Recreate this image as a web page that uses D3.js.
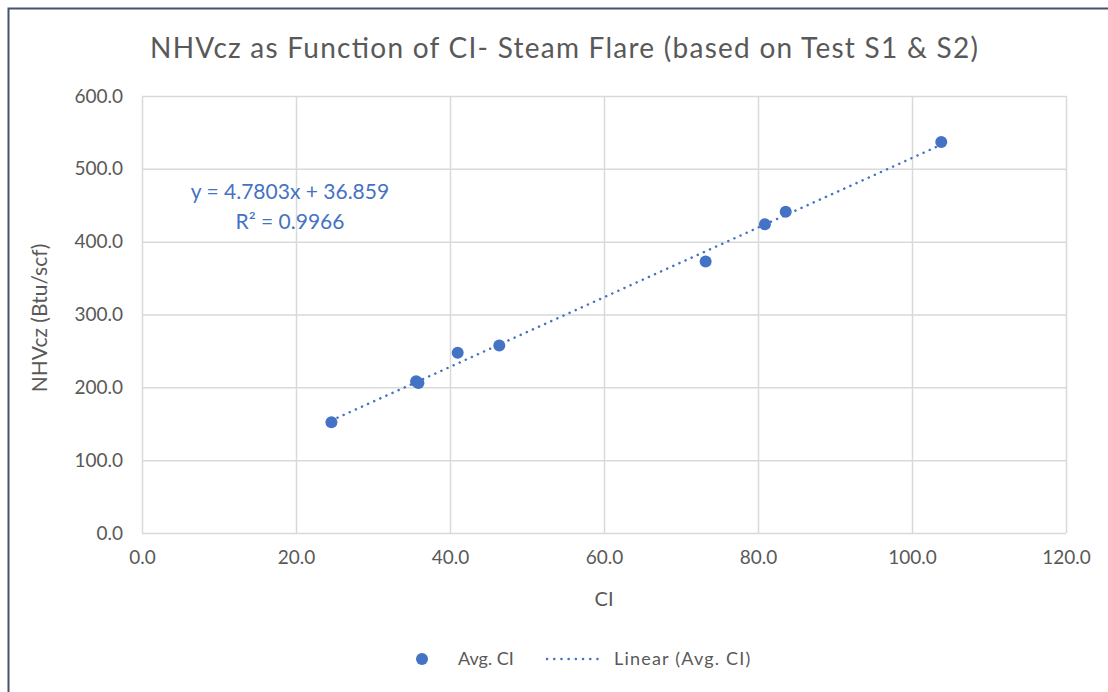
<!DOCTYPE html>
<html lang="en">
<head>
  <meta charset="utf-8">
  <title>NHVcz vs CI</title>
  <script src="https://cdn.jsdelivr.net/npm/d3@7"></script>
  <style>
    body { margin: 0; background: #fff; }
    text { font-family: Lato, "Open Sans", sans-serif; }
  </style>
</head>
<body>
  <script>
    // Avg. CI points
    var ciValues = [24.6, 35.6, 35.9, 41.0, 46.4, 73.2, 80.9, 83.6, 103.8];
    var nhvValues = [152, 208.5, 206, 247.6, 257.3, 372.7, 424, 441, 536.7];
    var xTicks = [0, 20, 40, 60, 80, 100, 120];
    var yTicks = [0, 100, 200, 300, 400, 500, 600];
    var slope = 4.7803, intercept = 36.859;

    var w = 1108, h = 692;
    var margin = { top: 96, left: 142, right: 42, bottom: 159 };
    var width = w - margin.left - margin.right;
    var height = h - margin.top - margin.bottom;
    var blue = "#4472C4", grey = "#595959";

    var svg = d3.select("body").append("svg")
                .attr("width", w)
                .attr("height", h);

    // outer chart frame
    svg.append("rect")
       .attr("x", 8.5).attr("y", 8.5)
       .attr("width", w + 20).attr("height", h + 20)
       .attr("fill", "#fff")
       .attr("stroke", "#44546A")
       .attr("stroke-width", 2);

    svg.append("text")
       .attr("x", 564).attr("y", 58)
       .attr("text-anchor", "middle")
       .attr("font-size", 28)
       .attr("fill", grey)
       .attr("textLength", 828)
       .text("NHVcz as Function of CI- Steam Flare (based on Test S1 & S2)");

    var chart = svg.append("g")
                   .attr("transform", "translate(" + margin.left + "," + margin.top + ")");

    var x = d3.scaleLinear().domain([0, 120]).range([0, width]);
    var y = d3.scaleLinear().domain([0, 600]).range([height, 0]);

    // gridlines
    chart.append("g")
         .call(d3.axisBottom(x).tickValues(xTicks).tickSize(-height).tickFormat(""))
         .attr("transform", "translate(0," + height + ")")
         .call(function(g) {
           g.select(".domain").remove();
           g.selectAll("line").attr("stroke", "#d9d9d9").attr("stroke-width", 1.5);
         });
    chart.append("g")
         .call(d3.axisLeft(y).tickValues(yTicks).tickSize(-width).tickFormat(""))
         .call(function(g) {
           g.select(".domain").remove();
           g.selectAll("line").attr("stroke", "#d9d9d9").attr("stroke-width", 1.5);
         });

    // tick labels
    var xAxis = chart.append("g")
         .attr("transform", "translate(0," + height + ")")
         .call(d3.axisBottom(x).tickValues(xTicks).tickSize(0).tickPadding(18).tickFormat(d3.format(".1f")));
    xAxis.select(".domain").remove();
    xAxis.selectAll("text").attr("font-size", 19).attr("fill", grey)
         .style("font-family", "Lato, sans-serif");

    var yAxis = chart.append("g")
         .call(d3.axisLeft(y).tickValues(yTicks).tickSize(0).tickPadding(19).tickFormat(d3.format(".1f")));
    yAxis.select(".domain").remove();
    yAxis.selectAll("text").attr("font-size", 19).attr("fill", grey)
         .style("font-family", "Lato, sans-serif");

    // axis titles
    svg.append("text")
       .attr("x", 604).attr("y", 606)
       .attr("text-anchor", "middle")
       .attr("font-size", 20)
       .attr("fill", grey)
       .text("CI");
    svg.append("text")
       .attr("transform", "translate(47,318) rotate(-90)")
       .attr("text-anchor", "middle")
       .attr("font-size", 21)
       .attr("fill", grey)
       .text("NHVcz (Btu/scf)");

    // trendline
    var xExt = d3.extent(ciValues);
    chart.append("line")
         .attr("x1", x(xExt[0])).attr("y1", y(slope * xExt[0] + intercept))
         .attr("x2", x(xExt[1])).attr("y2", y(slope * xExt[1] + intercept))
         .attr("stroke", blue)
         .attr("stroke-width", 2.5)
         .attr("stroke-linecap", "round")
         .attr("stroke-dasharray", "0.1 6.6");

    // points
    chart.selectAll(".point")
         .data(ciValues)
         .enter()
           .append("circle")
           .classed("point", true)
           .attr("cx", function(d) { return x(d); })
           .attr("cy", function(d, i) { return y(nhvValues[i]); })
           .attr("r", 6)
           .attr("fill", blue);

    // equation label
    svg.append("text")
       .attr("x", 290).attr("y", 199)
       .attr("text-anchor", "middle")
       .attr("font-size", 21)
       .attr("fill", blue)
       .text("y = 4.7803x + 36.859");
    svg.append("text")
       .attr("x", 290).attr("y", 229)
       .attr("text-anchor", "middle")
       .attr("font-size", 21)
       .attr("fill", blue)
       .text("R² = 0.9966");

    // legend
    var legend = svg.append("g");
    legend.append("circle")
          .attr("cx", 422).attr("cy", 659).attr("r", 6).attr("fill", blue);
    legend.append("text")
          .attr("x", 458).attr("y", 665)
          .attr("font-size", 18).attr("fill", grey)
          .text("Avg. CI");
    legend.append("line")
          .attr("x1", 547).attr("y1", 659).attr("x2", 604).attr("y2", 659)
          .attr("stroke", blue).attr("stroke-width", 2.5)
          .attr("stroke-linecap", "round")
          .attr("stroke-dasharray", "0.1 7.1");
    legend.append("text")
          .attr("x", 614).attr("y", 665)
          .attr("font-size", 18).attr("fill", grey)
          .attr("letter-spacing", 1.2)
          .text("Linear (Avg. CI)");
  </script>
</body>
</html>
